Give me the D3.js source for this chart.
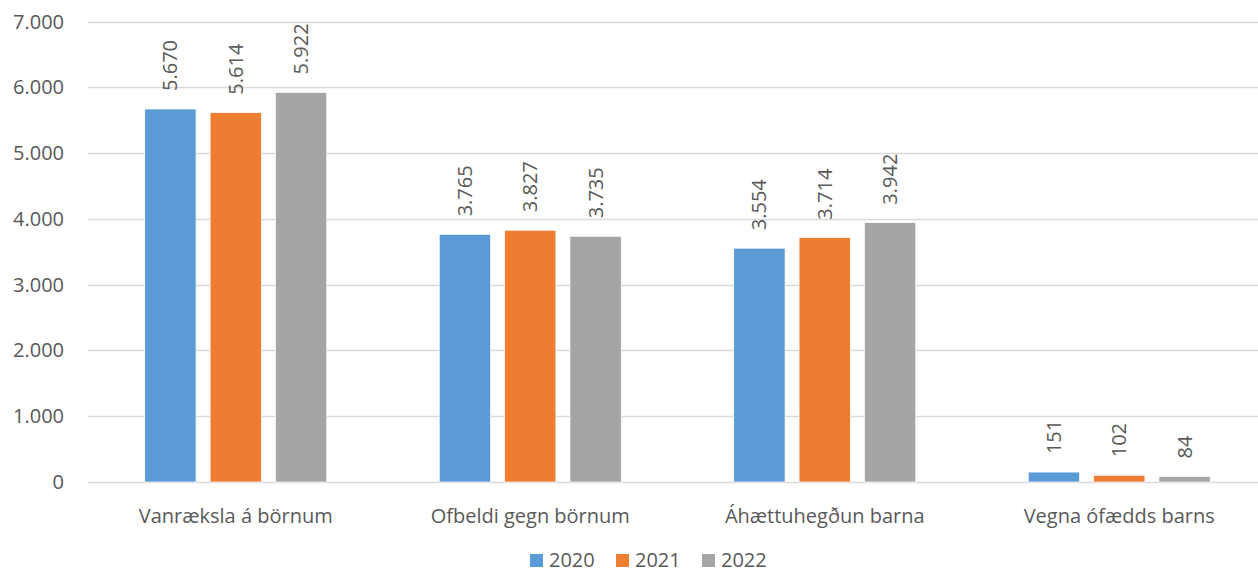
<!DOCTYPE html>
<html>
<head>
<meta charset="utf-8">
<script src="https://cdn.jsdelivr.net/npm/d3@7"></script>
<style>
  body { margin: 0; background: #fff; overflow: hidden; }
  text { font-family: "Open Sans", "Noto Sans", sans-serif; fill: #595959; }
</style>
</head>
<body>
<script>
const categories = ['Vanræksla á börnum', 'Ofbeldi gegn börnum', 'Áhættuhegðun barna', 'Vegna ófædds barns']
const years = ['2020', '2021', '2022']
const values2020 = [5670, 3765, 3554, 151]
const values2021 = [5614, 3827, 3714, 102]
const values2022 = [5922, 3735, 3942, 84]
const yTicks = [0, 1000, 2000, 3000, 4000, 5000, 6000, 7000]
const colors = ['#5B9BD5', '#ED7D31', '#A5A5A5']

const series = [values2020, values2021, values2022]
const rows = categories.map((c, i) => ({
    cat: c,
    vals: years.map((y, j) => ({ year: y, value: series[j][i], idx: j }))
}))

const width = 1258, height = 573
const fmt = v => d3.format(',')(v).replace(/,/g, '.')

const svg = d3.select('body')
    .append('svg')
    .attr('width', width)
    .attr('height', height)

const x = d3.scaleBand()
    .domain(categories)
    .range([88.5, 1266.5])

const x1 = d3.scaleBand()
    .domain(years)
    .range([x.bandwidth() / 2 - 91, x.bandwidth() / 2 + 91])
    .paddingInner(0.215)

const y = d3.scaleLinear()
    .domain([0, 7000])
    .range([482, 21.5])

// gridlines
svg.append('g')
    .selectAll('line')
    .data(yTicks)
    .enter().append('line')
    .attr('x1', 88)
    .attr('x2', width)
    .attr('y1', d => Math.round(y(d)) + 0.5)
    .attr('y2', d => Math.round(y(d)) + 0.5)
    .attr('stroke', '#D9D9D9')
    .attr('stroke-width', 1.3)

// y tick labels
svg.append('g')
    .selectAll('text')
    .data(yTicks)
    .enter().append('text')
    .attr('x', 64)
    .attr('y', d => y(d) + 7)
    .attr('text-anchor', 'end')
    .style('font-size', '20px')
    .text(fmt)

const groups = svg.append('g')
    .selectAll('g')
    .data(rows)
    .enter().append('g')
    .attr('transform', d => `translate(${x(d.cat)},0)`)

groups.selectAll('rect')
    .data(d => d.vals)
    .enter().append('rect')
    .attr('x', d => x1(d.year))
    .attr('width', x1.bandwidth())
    .attr('y', d => y(d.value))
    .attr('height', d => y(0) - y(d.value))
    .attr('fill', d => colors[d.idx])
    .attr('stroke', '#fff')
    .attr('stroke-width', 0.7)

groups.selectAll('text.lbl')
    .data(d => d.vals)
    .enter().append('text')
    .attr('class', 'lbl')
    .attr('transform', d => `translate(${x1(d.year) + x1.bandwidth() / 2 + 7},${y(d.value) - 18}) rotate(-90)`)
    .style('font-size', '20px')
    .text(d => fmt(d.value))

// category labels
svg.append('g')
    .selectAll('text')
    .data(categories)
    .enter().append('text')
    .attr('x', d => x(d) + x.bandwidth() / 2)
    .attr('y', 523)
    .attr('text-anchor', 'middle')
    .style('font-size', '20px')
    .text(d => d)

// legend
const legend = svg.append('g')
    .selectAll('g')
    .data(years)
    .enter().append('g')
    .attr('transform', (d, i) => `translate(${530 + i * 86},0)`)

legend.append('rect')
    .attr('x', 0)
    .attr('y', 554)
    .attr('width', 13)
    .attr('height', 13)
    .attr('fill', (d, i) => colors[i])

legend.append('text')
    .attr('x', 19)
    .attr('y', 567)
    .style('font-size', '20px')
    .text(d => d)
</script>
</body>
</html>
